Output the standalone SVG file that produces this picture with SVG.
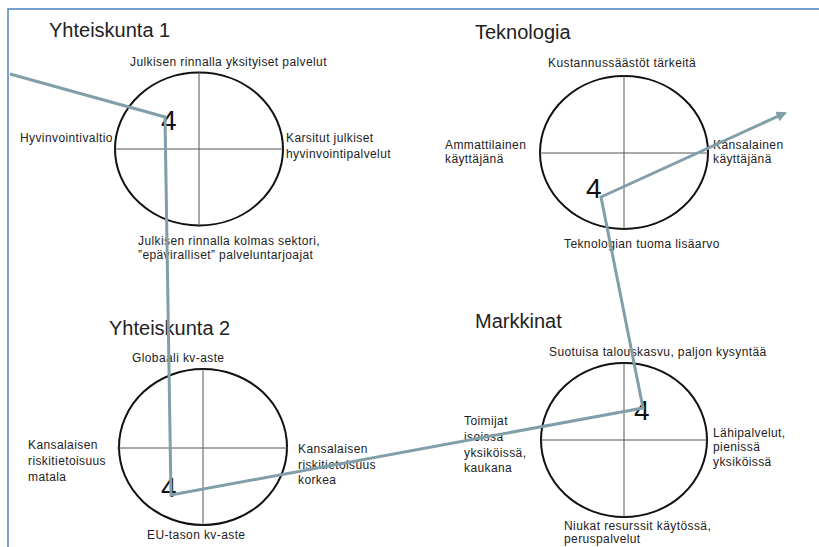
<svg xmlns="http://www.w3.org/2000/svg" width="819" height="547" viewBox="0 0 819 547">
<style>
.t{font-family:"Liberation Sans",Arial,sans-serif;font-size:12px;letter-spacing:0.4px;fill:#222}
.h{font-family:"Liberation Sans",Arial,sans-serif;font-size:20px;fill:#222}
.n{font-family:"Liberation Sans",Arial,sans-serif;font-size:28px;fill:#111}
.e{fill:none;stroke:#111;stroke-width:2}
.x{stroke:#555;stroke-width:1}
.c{fill:none;stroke:#819fa8;stroke-width:3;stroke-linejoin:miter}
</style>
<defs>
<marker id="ar" viewBox="0 0 10 10" refX="8" refY="5" markerWidth="3.5" markerHeight="3.5" orient="auto" markerUnits="strokeWidth">
<path d="M0,0 L10,5 L0,10 Z" fill="#819fa8"/>
</marker>
</defs>
<rect width="819" height="547" fill="#fff"/>
<path d="M8,547 V9 H819" fill="none" stroke="#4f81bd" stroke-width="1.5"/>

<g id="yhteiskunta1">
<text class="h" x="49" y="37">Yhteiskunta 1</text>
<ellipse class="e" cx="199" cy="149" rx="84" ry="76.5"/>
<line class="x" x1="199" y1="72" x2="199" y2="227"/>
<line class="x" x1="115" y1="149" x2="283" y2="149"/>
<text class="t" x="130" y="66">Julkisen rinnalla yksityiset palvelut</text>
<text class="t" x="20" y="142">Hyvinvointivaltio</text>
<text class="t" x="286" y="142">Karsitut julkiset</text>
<text class="t" x="286" y="158">hyvinvointipalvelut</text>
<text class="t" x="138" y="245">Julkisen rinnalla kolmas sektori,</text>
<text class="t" x="138" y="259">”epäviralliset” palveluntarjoajat</text>
<text class="n" x="161" y="130">4</text>
</g>

<g id="teknologia">
<text class="h" x="475" y="39">Teknologia</text>
<ellipse class="e" cx="624" cy="152.5" rx="84" ry="76.5"/>
<line class="x" x1="624" y1="76" x2="624" y2="229"/>
<line class="x" x1="540" y1="153" x2="708" y2="153"/>
<text class="t" x="548" y="67">Kustannussäästöt tärkeitä</text>
<text class="t" x="445" y="149">Ammattilainen</text>
<text class="t" x="445" y="163">käyttäjänä</text>
<text class="t" x="713" y="149">Kansalainen</text>
<text class="t" x="713" y="163">käyttäjänä</text>
<text class="t" x="564" y="248">Teknologian tuoma lisäarvo</text>
<text class="n" x="586" y="198">4</text>
</g>

<g id="yhteiskunta2">
<text class="h" x="109" y="335">Yhteiskunta 2</text>
<ellipse class="e" cx="203" cy="447" rx="84" ry="78"/>
<line class="x" x1="203" y1="369" x2="203" y2="525"/>
<line class="x" x1="117" y1="448" x2="288" y2="448"/>
<text class="t" x="132" y="362">Globaali kv-aste</text>
<text class="t" x="28" y="449">Kansalaisen</text>
<text class="t" x="28" y="465">riskitietoisuus</text>
<text class="t" x="28" y="481">matala</text>
<text class="t" x="298" y="453">Kansalaisen</text>
<text class="t" x="298" y="469">riskitietoisuus</text>
<text class="t" x="298" y="484">korkea</text>
<text class="t" x="147" y="539">EU-tason kv-aste</text>
<text class="n" x="161" y="497">4</text>
</g>

<g id="markkinat">
<text class="h" x="475" y="328">Markkinat</text>
<ellipse class="e" cx="624" cy="440" rx="83" ry="77"/>
<line class="x" x1="624" y1="363" x2="624" y2="517"/>
<line class="x" x1="541" y1="440" x2="707" y2="440"/>
<text class="t" x="549" y="356">Suotuisa talouskasvu, paljon kysyntää</text>
<text class="t" x="464" y="425">Toimijat</text>
<text class="t" x="464" y="441">isoissa</text>
<text class="t" x="464" y="457">yksiköissä,</text>
<text class="t" x="464" y="472">kaukana</text>
<text class="t" x="713" y="437">Lähipalvelut,</text>
<text class="t" x="713" y="451">pienissä</text>
<text class="t" x="713" y="466">yksiköissä</text>
<text class="t" x="564" y="530">Niukat resurssit käytössä,</text>
<text class="t" x="564" y="543">peruspalvelut</text>
<text class="n" x="634" y="420">4</text>
</g>

<g id="connectors">
<path class="c" d="M10,74 L165,117 L171,495 L643,408 L601,197 L785,113" marker-end="url(#ar)"/>
</g>
</svg>
